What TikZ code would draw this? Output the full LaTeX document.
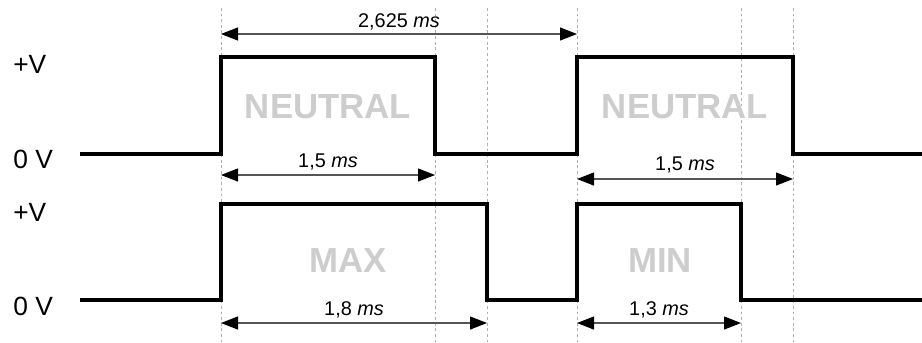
\documentclass[tikz,border=0pt]{standalone}
\usepackage{fontspec}
\setmainfont{Liberation Sans}
\usetikzlibrary{arrows.meta}

\definecolor{guide}{RGB}{175,175,175}
\definecolor{faded}{RGB}{205,205,205}
\definecolor{dimline}{RGB}{85,85,85}

\tikzset{
    signal/.style={line width=2.3pt, line join=miter},
    guideline/.style={guide, line width=0.45pt, dash pattern=on 1.6pt off 1.6pt},
    span/.style={dimline, line width=0.6pt,
        {Triangle[length=0.34cm,width=0.26cm,color=black]}-{Triangle[length=0.34cm,width=0.26cm,color=black]}},
    level/.style={inner sep=0pt, anchor=base west, font=\fontsize{15}{17}\selectfont},
    spanlabel/.style={inner sep=0pt, anchor=base, font=\fontsize{11.3}{13}\selectfont},
    state/.style={inner sep=0pt, anchor=base, text=faded, font=\fontsize{19.8}{23}\selectfont\bfseries},
}

\begin{document}
\begin{tikzpicture}[x=0.02cm, y=-0.02cm]
        \useasboundingbox (0,0) rectangle (922,342);
        % time marks and levels
        \coordinate (t1) at (221,0);
        \coordinate (t2) at (435,0);
        \coordinate (t3) at (487,0);
        \coordinate (t4) at (577,0);
        \coordinate (t5) at (741,0);
        \coordinate (t6) at (793,0);
        \coordinate (hiA) at (0,57);
        \coordinate (loA) at (0,154);
        \coordinate (hiB) at (0,204);
        \coordinate (loB) at (0,300);
        \coordinate (top) at (0,8);
        \coordinate (bot) at (0,342);
        \foreach \t in {t1,t2,t3,t4,t5,t6}
            \draw[guideline] (\t |- top) -- (\t |- bot);
        % level labels
        \node[level] (plusA) at (13,73) {+V};
        \node[level] (zeroA) at (13,168) {0 V};
        \node[level] (plusB) at (13,221) {+V};
        \node[level] (zeroB) at (13,315) {0 V};
        % upper signal
        \coordinate (startA) at (80,154);
        \coordinate (endA) at (922,154);
        \draw[signal] (startA) -- (t1 |- loA) -- (t1 |- hiA) -- (t2 |- hiA) -- (t2 |- loA)
            -- (t4 |- loA) -- (t4 |- hiA) -- (t6 |- hiA) -- (t6 |- loA) -- (endA);
        % lower signal
        \coordinate (startB) at (80,300);
        \coordinate (endB) at (922,300);
        \draw[signal] (startB) -- (t1 |- loB) -- (t1 |- hiB) -- (t3 |- hiB) -- (t3 |- loB)
            -- (t4 |- loB) -- (t4 |- hiB) -- (t5 |- hiB) -- (t5 |- loB) -- (endB);
        % pulse names
        \node[state] (neutralA) at (328,118) {NEUTRAL};
        \node[state] (neutralB) at (685,118) {NEUTRAL};
        \node[state] (max) at (348,272) {MAX};
        \node[state] (min) at (660,272) {MIN};
        % durations
        \draw[span] (t1 |- 0,34) -- (t4 |- 0,34);
        \node[spanlabel] (period) at (399,27) {2,625 \textit{ms}};
        \draw[span] (t1 |- 0,175) -- (t2 |- 0,175);
        \node[spanlabel] (widthA) at (328,167) {1,5 \textit{ms}};
        \draw[span] (t4 |- 0,179) -- (t6 |- 0,179);
        \node[spanlabel] (widthB) at (685,170) {1,5 \textit{ms}};
        \draw[span] (t1 |- 0,323) -- (t3 |- 0,323);
        \node[spanlabel] (widthC) at (354,315) {1,8 \textit{ms}};
        \draw[span] (t4 |- 0,323) -- (t5 |- 0,323);
        \node[spanlabel] (widthD) at (659,315) {1,3 \textit{ms}};
    \end{tikzpicture}
\end{document}
